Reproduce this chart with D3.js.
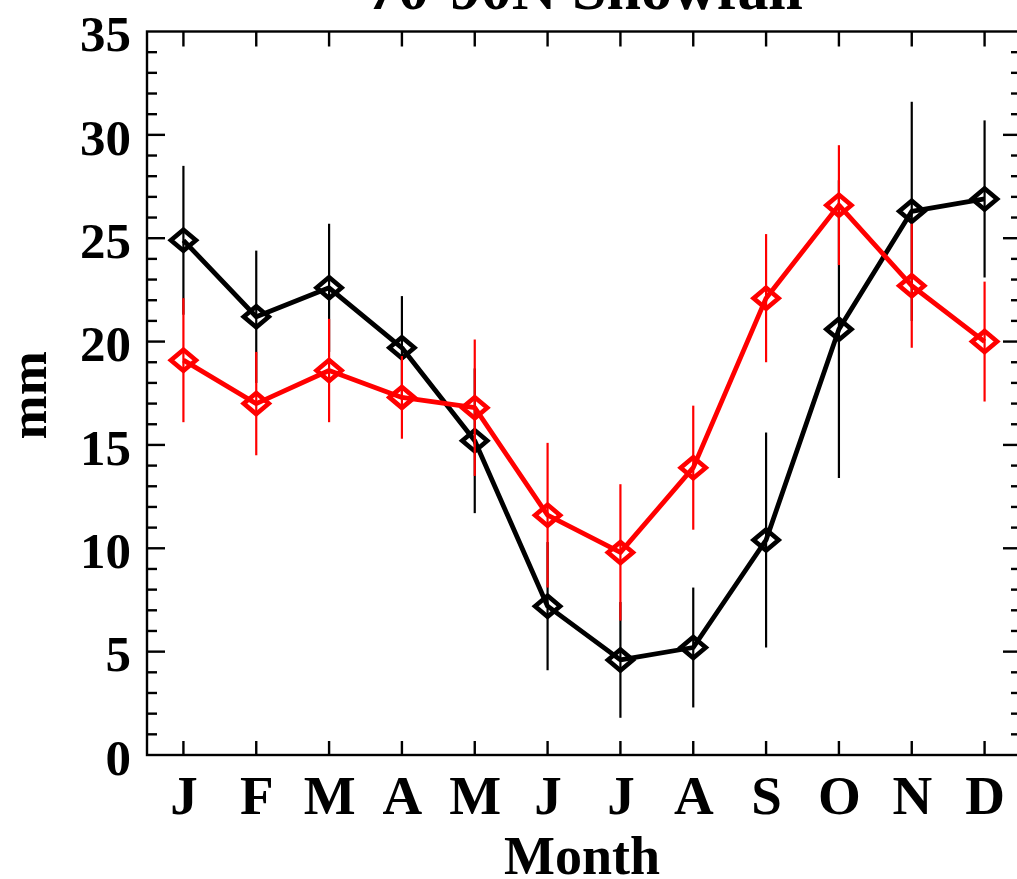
<!DOCTYPE html>
<html>
<head>
<meta charset="utf-8">
<script src="https://cdn.jsdelivr.net/npm/d3@7"></script>
<style>
html,body{margin:0;padding:0;background:#fff;overflow:hidden;}
text{font-family:"Liberation Serif","Times New Roman",serif;font-weight:bold;fill:#000;}
</style>
</head>
<body>
<svg id="chart" width="1017" height="879"></svg>
<script>
const months = ["J","F","M","A","M","J","J","A","S","O","N","D"];
const blackVals = [24.9,21.2,22.6,19.7,15.2,7.2,4.6,5.2,10.4,20.6,26.3,26.9];
const blackErr  = [3.6,3.2,3.1,2.5,3.5,3.1,2.8,2.9,5.2,7.2,5.3,3.8];
const redVals   = [19.1,17.0,18.6,17.3,16.8,11.6,9.8,13.9,22.1,26.6,22.7,20.0];
const redErr    = [3.0,2.5,2.5,2.0,3.3,3.5,3.3,3.0,3.1,2.9,3.0,2.9];
const yMajor = [0,5,10,15,20,25,30,35];
const titleText = "70-90N Snowfall";
const xTitle = "Month";
const yTitle = "mm";

const svg = d3.select("#chart");
const L = 147, R = 1021, T = 31.5, B = 755;
const x = d3.scaleLinear().domain([0.5, 12.5]).range([L, R]);
const y = d3.scaleLinear().domain([0, 35]).range([B, T]);
const idx = d3.range(1, 13);

// title (top cropped, as in the reference)
svg.append("text").attr("x", 585).attr("y", 9).attr("text-anchor","middle")
  .style("font-size","62px").text(titleText);

// frame
const g = svg.append("g");
g.append("rect").attr("x", L).attr("y", T).attr("width", R-L).attr("height", B-T)
  .attr("fill","none").attr("stroke","#000").attr("stroke-width",2.4);

// y ticks (left & right)
y.ticks(35).forEach(v => {
  const len = v % 5 === 0 ? 18 : 10;
  if (v === 0 || v === 35) return;
  g.append("line").attr("x1", L).attr("x2", L+len).attr("y1", y(v)).attr("y2", y(v))
    .attr("stroke","#000").attr("stroke-width",2.4);
  g.append("line").attr("x1", R).attr("x2", R-len).attr("y1", y(v)).attr("y2", y(v))
    .attr("stroke","#000").attr("stroke-width",2.4);
});
// x ticks top & bottom
idx.forEach(i => {
  g.append("line").attr("x1", x(i)).attr("x2", x(i)).attr("y1", B).attr("y2", B-14)
    .attr("stroke","#000").attr("stroke-width",2.4);
  g.append("line").attr("x1", x(i)).attr("x2", x(i)).attr("y1", T).attr("y2", T+15)
    .attr("stroke","#000").attr("stroke-width",2.4);
});

// y axis labels via d3 axis
const yAxis = d3.axisLeft(y).tickValues(yMajor).tickSize(0).tickPadding(0).tickFormat(d3.format("d"));
const ya = svg.append("g").attr("transform", `translate(${L-16},3)`).call(yAxis);
ya.select(".domain").remove();
ya.selectAll("text").style("font-size","51px").attr("font-family", null);

// x axis labels
const xAxis = d3.axisBottom(x).tickValues(idx).tickSize(0).tickPadding(0).tickFormat(d => months[d-1]);
const xa = svg.append("g").attr("transform", `translate(0,${B+20})`).call(xAxis);
xa.select(".domain").remove();
xa.selectAll("text").style("font-size","55px").attr("font-family", null).attr("dy","0.71em");

// axis titles
svg.append("text").attr("x", (L+R)/2 - 2).attr("y", 874).attr("text-anchor","middle")
  .style("font-size","54px").text(xTitle);
svg.append("text").attr("transform", `translate(46,${y(17.5)+2}) rotate(-90)`)
  .attr("text-anchor","middle").style("font-size","53px").text(yTitle);

// series
function drawSeries(vals, errs, color) {
  const sg = svg.append("g");
  sg.selectAll("line.err").data(vals).join("line").attr("class","err")
    .attr("x1", (d,i) => x(i+1)).attr("x2", (d,i) => x(i+1))
    .attr("y1", (d,i) => y(d - errs[i])).attr("y2", (d,i) => y(d + errs[i]))
    .attr("stroke", color).attr("stroke-width", 2.2);
  const line = d3.line().x((d,i) => x(i+1)).y(d => y(d));
  sg.append("path").datum(vals).attr("d", line).attr("fill","none")
    .attr("stroke", color).attr("stroke-width", 4.8).attr("stroke-linejoin","round");
  const hw = 12.5, hh = 10.5;
  sg.selectAll("path.mk").data(vals).join("path").attr("class","mk")
    .attr("d", (d,i) => {
      const cx = x(i+1), cy = y(d);
      return `M${cx-hw},${cy}L${cx},${cy-hh}L${cx+hw},${cy}L${cx},${cy+hh}Z`;
    })
    .attr("fill","none").attr("stroke", color).attr("stroke-width", 4.6);
}
drawSeries(blackVals, blackErr, "#000000");
drawSeries(redVals, redErr, "#ff0000");
</script>
</body>
</html>
